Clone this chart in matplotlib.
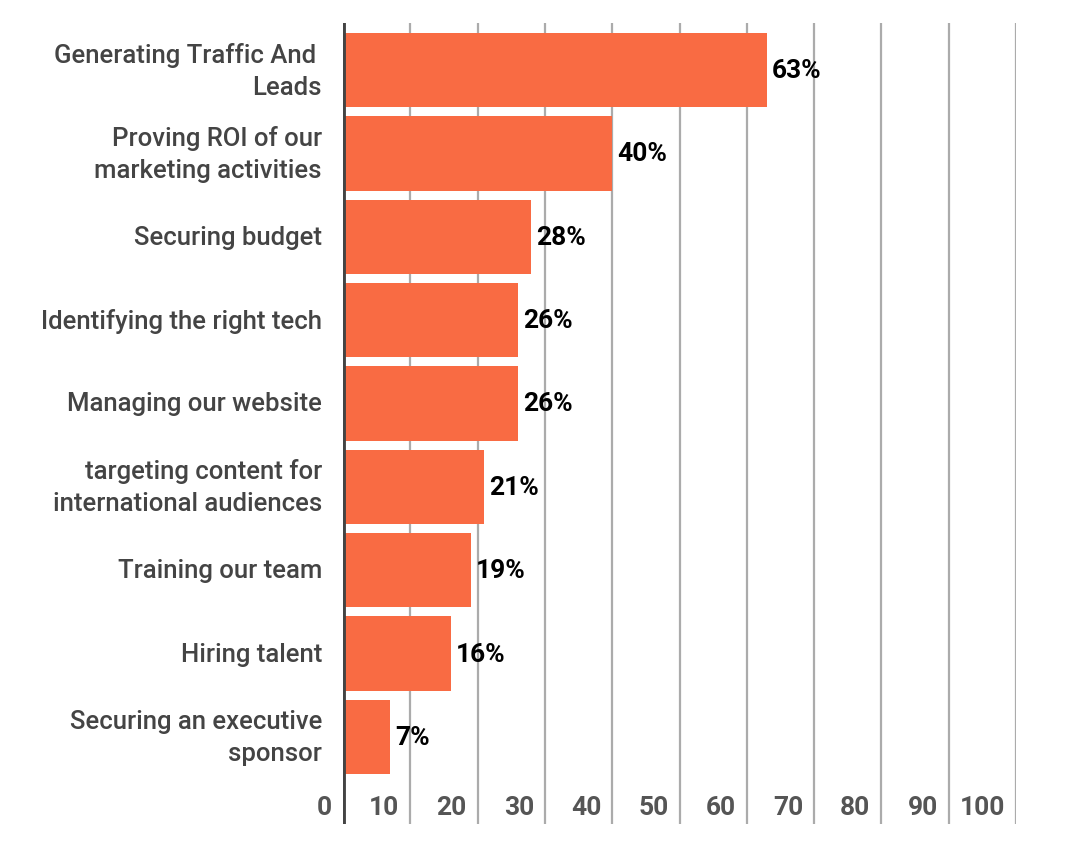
import numpy as np
import matplotlib.pyplot as plt
from matplotlib.transforms import offset_copy

categories = ["Generating Traffic And \nLeads",
              "Proving ROI of our\nmarketing activities",
              "Securing budget",
              "Identifying the right tech",
              "Managing our website",
              "targeting content for\ninternational audiences",
              "Training our team",
              "Hiring talent",
              "Securing an executive\nsponsor"]
values = [63, 40, 28, 26, 26, 21, 19, 16, 7]
xticks = [0, 10, 20, 30, 40, 50, 60, 70, 80, 90, 100]

plt.rcParams['font.family'] = ['Roboto', 'DejaVu Sans']

fig = plt.figure(figsize=(10.66, 8.54), dpi=100)
ax = fig.add_axes([343 / 1066, 1 - 825 / 854, (1016 - 343) / 1066, (825 - 24) / 854])

y = np.arange(len(categories))
ax.barh(y, values, height=0.89, color='#F96B43', zorder=2)

ax.set_xlim(0, 100)
ax.set_ylim(len(categories) - 1 + 1.045, -0.565)

for t in xticks[1:]:
    ax.axvline(t, color='#ababab', lw=1.6, zorder=1)
ax.axvline(0, color='#444444', lw=3.5, zorder=3)

for s in ax.spines.values():
    s.set_visible(False)
ax.set_xticks([])
ax.set_yticks([])

# category labels
lab_tr = offset_copy(ax.transData, fig=fig, x=-21, y=0, units='dots')
for yi, c in zip(y, categories):
    ax.text(0, yi, c, transform=lab_tr, ha='right', va='center',
            fontsize=18.5, fontweight='medium', color='#444444',
            linespacing=1.42, clip_on=False)

# value labels
val_tr = offset_copy(ax.transData, fig=fig, x=5, y=0, units='dots')
for yi, v in zip(y, values):
    ax.text(v, yi, f"{v}%", transform=val_tr, ha='left', va='center',
            fontsize=19, fontweight='bold', color='black', zorder=4)

# axis tick labels, drawn left of each grid line
tick_tr = offset_copy(ax.transData, fig=fig, x=-11, y=0, units='dots')
for t in xticks:
    ax.text(t, len(categories) - 1 + 0.84, str(t), transform=tick_tr,
            ha='right', va='center', fontsize=19, fontweight='bold',
            color='#555555', clip_on=False)

fig.savefig('out.png', dpi=100)
